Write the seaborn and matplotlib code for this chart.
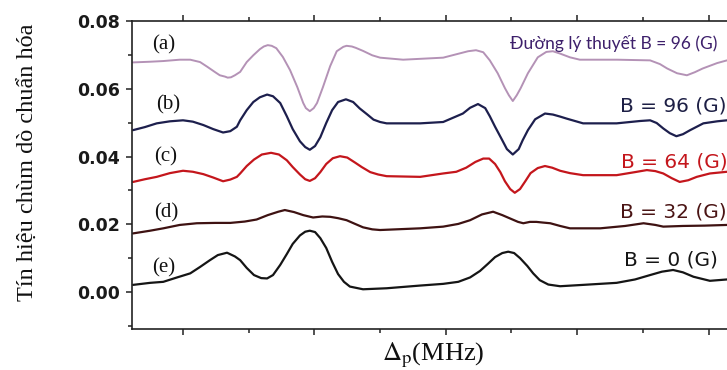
import pandas as pd
import matplotlib.pyplot as plt
import seaborn as sns

# detuning axis (MHz, arbitrary origin) and normalised probe signal (x 1e-3)
xa = [-7.6, -5.0, -3.0, -0.5, 1.1, 2.6, 3.7, 4.9, 5.6, 6.4,
      6.8, 7.3, 7.9, 8.7, 9.7, 10.7, 11.7, 12.3, 12.9, 13.5,
      14.2, 15.2, 16.3, 17.4, 18.3, 18.7, 19.3, 19.9, 20.4, 21.3,
      22.4, 23.4, 24.4, 24.9, 25.7, 26.3, 27.4, 28.8, 30.0, 33.5,
      39.6, 42.2, 43.4, 44.6, 45.7, 46.7, 47.9, 49.0, 49.6, 50.2,
      50.8, 51.4, 52.5, 54.0, 55.3, 56.3, 57.4, 58.9, 60.4, 66.1,
      71.1, 72.6, 73.7, 75.2, 76.7, 77.9, 79.1, 81.3, 82.8]
ya = [67.8, 68.0, 68.2, 68.6, 68.6, 67.9, 66.5, 64.9, 64.0, 63.6,
      63.3, 63.4, 64.0, 65.0, 67.9, 69.9, 71.7, 72.5, 72.9, 72.7,
      72.0, 69.4, 65.5, 60.5, 55.8, 54.3, 53.4, 54.3, 55.8, 60.5,
      66.7, 71.1, 72.4, 72.7, 72.5, 72.1, 71.2, 69.9, 69.2, 68.6,
      69.2, 70.5, 71.1, 71.4, 70.8, 68.4, 64.6, 60.2, 58.1, 56.4,
      58.1, 60.2, 64.6, 69.3, 70.9, 71.1, 70.4, 69.3, 68.6, 68.6,
      68.4, 67.3, 66.0, 64.6, 64.0, 64.9, 66.0, 67.6, 68.4]

xb = [-7.6, -5.8, -4.0, -2.0, 0.0, 1.5, 3.1, 4.6, 6.1, 7.2,
      8.2, 8.7, 9.7, 10.7, 11.7, 12.8, 13.7, 14.8, 15.8, 16.7,
      17.8, 18.6, 19.3, 20.1, 20.9, 21.8, 22.7, 23.6, 24.8, 25.9,
      26.9, 28.0, 29.0, 30.0, 31.0, 36.1, 39.6, 42.6, 43.7, 44.9,
      46.0, 46.7, 47.5, 48.6, 49.3, 50.2, 51.1, 51.7, 52.5, 53.6,
      55.1, 56.3, 57.4, 58.4, 60.9, 66.0, 69.6, 71.1, 72.1, 73.1,
      74.1, 75.1, 76.1, 77.2, 79.2, 81.3, 82.8]
yb = [47.8, 48.7, 49.8, 50.4, 50.7, 50.3, 49.3, 48.1, 47.1, 47.5,
      48.8, 50.7, 53.7, 56.1, 57.5, 58.3, 57.8, 55.8, 51.9, 48.1,
      44.5, 42.8, 42.0, 43.1, 45.7, 49.9, 53.7, 56.1, 56.9, 56.1,
      54.2, 52.5, 50.9, 50.2, 49.8, 49.8, 50.2, 52.7, 54.4, 55.5,
      54.3, 51.9, 48.8, 44.8, 42.2, 40.6, 42.2, 44.8, 47.8, 51.0,
      52.7, 52.4, 51.8, 51.2, 49.8, 49.8, 50.5, 50.7, 49.9, 48.3,
      46.9, 46.0, 46.6, 47.8, 49.8, 50.4, 50.7]

xc = [-7.6, -5.8, -4.0, -2.0, 0.0, 1.5, 3.1, 4.6, 6.1, 7.2,
      8.2, 8.7, 9.7, 10.8, 12.0, 13.4, 14.6, 15.8, 16.7, 17.8,
      18.6, 19.3, 20.1, 20.9, 21.8, 22.8, 23.9, 25.0, 26.2, 27.2,
      28.5, 29.7, 31.0, 36.1, 39.6, 41.6, 43.1, 44.5, 45.7, 46.6,
      47.5, 48.3, 49.0, 49.8, 50.5, 51.3, 52.1, 52.9, 54.0, 55.1,
      56.2, 57.4, 58.9, 60.9, 66.0, 68.8, 70.6, 71.9, 73.1, 74.4,
      75.6, 76.9, 78.2, 80.2, 82.8]
yc = [32.5, 33.3, 34.0, 35.1, 35.8, 35.5, 34.8, 33.8, 32.7, 33.2,
      34.0, 35.0, 37.2, 39.1, 40.6, 41.1, 40.6, 38.9, 36.9, 34.7,
      33.3, 32.8, 33.6, 35.4, 37.8, 39.5, 40.1, 39.7, 38.2, 36.9,
      35.4, 34.7, 34.2, 34.0, 35.0, 35.5, 36.7, 38.4, 39.4, 39.4,
      37.8, 35.4, 32.7, 30.4, 29.3, 30.4, 32.7, 35.1, 36.6, 37.2,
      36.7, 35.8, 35.1, 34.5, 34.5, 35.4, 36.0, 35.7, 35.0, 33.6,
      32.5, 33.0, 34.0, 35.0, 35.5]

xd = [-7.6, -5.0, -3.0, -0.5, 2.1, 4.9, 7.2, 9.4, 11.2, 12.9,
      14.5, 15.5, 16.9, 18.3, 19.8, 21.2, 22.4, 23.6, 24.9, 26.2,
      27.4, 28.8, 30.0, 36.1, 39.6, 41.9, 43.7, 45.5, 47.2, 48.6,
      49.8, 51.0, 51.8, 52.8, 53.8, 54.8, 55.9, 57.4, 58.9, 63.5,
      67.3, 70.1, 71.9, 73.1, 76.1, 79.4, 82.8]
yd = [17.3, 18.1, 18.8, 19.8, 20.3, 20.4, 20.4, 20.8, 21.4, 22.7,
      23.7, 24.2, 23.6, 22.7, 22.0, 22.3, 22.2, 21.8, 21.2, 20.1,
      19.1, 18.5, 18.3, 18.8, 19.3, 20.1, 21.2, 22.9, 23.7, 22.7,
      21.7, 20.7, 20.3, 20.7, 20.7, 20.5, 20.3, 19.5, 18.8, 18.8,
      19.5, 20.3, 19.8, 19.3, 19.5, 19.6, 19.8]

xe = [-7.6, -5.0, -3.0, -0.9, 1.1, 2.6, 4.1, 5.3, 6.7, 7.9,
      8.7, 9.7, 10.8, 11.9, 12.8, 13.7, 14.8, 15.8, 16.7, 17.8,
      18.6, 19.3, 20.1, 20.9, 21.8, 22.7, 23.6, 24.5, 25.4, 27.4,
      31.0, 36.1, 39.6, 41.9, 43.7, 45.2, 46.4, 47.5, 48.6, 49.5,
      50.4, 51.3, 52.4, 53.3, 54.3, 55.6, 57.4, 60.9, 66.0, 68.8,
      71.1, 72.9, 74.6, 76.1, 77.7, 80.2, 82.8]
ye = [2.1, 2.7, 3.0, 4.3, 5.5, 7.4, 9.4, 10.9, 11.6, 10.5,
      9.4, 7.1, 5.0, 4.1, 4.0, 5.0, 8.0, 11.2, 14.2, 16.7,
      17.8, 18.1, 17.7, 15.9, 13.0, 8.9, 5.3, 3.0, 1.6, 0.8,
      1.1, 1.9, 2.4, 3.0, 4.3, 6.2, 8.3, 10.3, 11.5, 11.9,
      11.5, 10.0, 7.7, 5.5, 3.5, 2.2, 1.7, 2.1, 2.7, 3.7,
      5.0, 6.0, 6.5, 5.8, 4.5, 3.3, 3.7]

letters = ['(a)', '(b)', '(c)', '(d)', '(e)']
labels = ['Đường lý thuyết B = 96 (G)', 'B = 96 (G)', 'B = 64 (G)', 'B = 32 (G)', 'B = 0 (G)']
line_colors = ['#b492b6', '#1d1f4d', '#c4161c', '#3e1212', '#151515']
text_colors = ['#3d1f6b', '#1d1f45', '#c4161c', '#4a1414', '#151515']

curves = [(xa, ya), (xb, yb), (xc, yc), (xd, yd), (xe, ye)]

sns.set_style('ticks')
plt.rcParams['font.family'] = ['DejaVu Sans']
plt.rcParams['mathtext.fontset'] = 'stix'

fig = plt.figure(figsize=(7.27, 3.70), dpi=100)
ax = fig.add_axes([0.1816, 0.112, 0.850, 0.831])

for i, (xs, ys) in enumerate(curves):
    df = pd.DataFrame({'x': xs, 'y': [v / 1000 for v in ys]})
    sns.lineplot(data=df, x='x', y='y', ax=ax, color=line_colors[i],
                 lw=1.4 if i == 0 else 1.6, sort=False, estimator=None,
                 solid_joinstyle='round')

ax.set_xlim(-7.76, 86.3)
ax.set_ylim(-0.0108, 0.0800)
ax.set_xlabel('')
ax.set_ylabel('')

ax.set_xticks([0, 20, 40, 60, 80])
ax.set_xticks([10, 30, 50, 70], minor=True)
ax.set_yticks([0.0, 0.02, 0.04, 0.06, 0.08])
ax.set_yticks([-0.01, 0.01, 0.03, 0.05, 0.07], minor=True)
ax.set_yticklabels(['0.00', '0.02', '0.04', '0.06', '0.08'])
ax.tick_params(axis='x', which='both', direction='out', top=True, bottom=True,
               labelbottom=False, labeltop=False, width=1.1, color='#222222')
ax.tick_params(axis='x', which='major', length=4.5)
ax.tick_params(axis='x', which='minor', length=3)
ax.tick_params(axis='y', which='both', direction='out', width=1.1, color='#222222')
ax.tick_params(axis='y', which='major', length=4.5, labelsize=12.5, pad=4)
ax.tick_params(axis='y', which='minor', length=3)
for t in ax.get_yticklabels():
    t.set_fontweight('bold')
    t.set_color('#1a1a1a')

for side in ['left', 'bottom', 'top']:
    ax.spines[side].set_linewidth(1.2)
    ax.spines[side].set_color('#222222')
ax.spines['right'].set_visible(False)

# panel letters
letter_x = [-2.9, -2.3, -2.6, -2.6, -3.0]
letter_y = [0.0729, 0.0552, 0.0398, 0.0234, 0.0070]
for i in range(5):
    ax.text(letter_x[i], letter_y[i], letters[i], ha='center', va='center',
            fontsize=15, family='Liberation Serif', color='#111111')

# right-hand labels
label_x = [49.8, 66.5, 66.7, 66.5, 67.1]
label_y = [0.0734, 0.0549, 0.0384, 0.0237, 0.0094]
for i in range(5):
    if i == 0:
        ax.text(label_x[i], label_y[i], labels[i], ha='left', va='center',
                fontsize=12.5, family='Lato', color=text_colors[i], clip_on=False)
    else:
        ax.text(label_x[i], label_y[i], labels[i], ha='left', va='center',
                fontsize=14.5, family='DejaVu Sans', color=text_colors[i], clip_on=False)

fig.text(28 / 727, 1 - 162 / 370, 'Tín hiệu chùm dò chuẩn hóa', rotation=90,
         ha='center', va='center', fontsize=17.5, family='Liberation Serif', color='#111111')
fig.text(433 / 727, 1 - 355 / 370, r'$\Delta_{\mathrm{p}}$(MHz)', ha='center', va='center',
         fontsize=19, family='Liberation Serif', color='#111111')

fig.savefig('out.png', dpi=100)
plt.close()
